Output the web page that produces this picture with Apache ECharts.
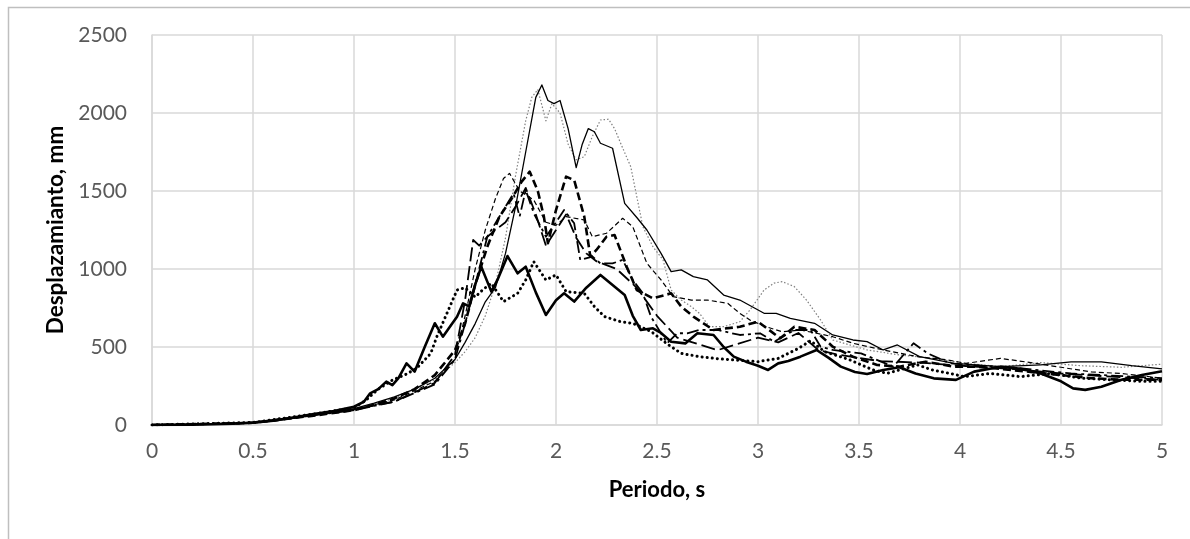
<!DOCTYPE html>
<html>
<head>
<meta charset="utf-8">
<script src="https://cdn.jsdelivr.net/npm/echarts@6/dist/echarts.min.js"></script>
<style>
html,body{margin:0;padding:0;background:#fff;}
#chart{width:1190px;height:539px;}
</style>
</head>
<body>
<div id="chart"></div>
<script>
// Axis ticks
const xTicks = [0, 0.5, 1, 1.5, 2, 2.5, 3, 3.5, 4, 4.5, 5];
const yTicks = [0, 500, 1000, 1500, 2000, 2500];

// Series A: thick solid
const aX = [0,0.2,0.4,0.5,0.6,0.7,0.8,0.9,1.0,1.05,1.08,1.12,1.16,1.19,1.22,1.26,1.30,1.35,1.40,1.44,1.48,1.51,1.54,1.57,1.60,1.63,1.68,1.71,1.76,1.81,1.85,1.90,1.95,2.0,2.04,2.09,2.15,2.22,2.28,2.34,2.38,2.42,2.48,2.52,2.57,2.64,2.70,2.78,2.83,2.88,2.94,3.0,3.05,3.10,3.15,3.21,3.29,3.35,3.41,3.48,3.54,3.62,3.70,3.78,3.87,3.98,4.07,4.20,4.30,4.40,4.50,4.56,4.62,4.70,4.80,4.90,5.0];
const aY = [0,2,8,15,28,48,70,90,117,150,203,230,278,256,300,395,342,500,652,566,640,694,780,760,900,1015,855,930,1083,972,1015,850,705,800,844,791,880,962,898,833,700,609,620,590,534,523,588,577,500,438,406,380,353,395,410,438,481,430,374,340,327,353,370,330,299,289,342,374,360,330,280,235,225,245,290,320,345];

// Series B: thin solid
const bX = [0,0.2,0.4,0.5,0.6,0.7,0.8,0.9,1.0,1.1,1.2,1.3,1.4,1.5,1.55,1.6,1.65,1.7,1.75,1.8,1.85,1.9,1.93,1.96,1.99,2.02,2.06,2.10,2.13,2.16,2.19,2.22,2.28,2.34,2.40,2.45,2.52,2.57,2.62,2.68,2.75,2.83,2.91,3.03,3.09,3.16,3.28,3.37,3.47,3.54,3.62,3.69,3.80,3.97,4.20,4.40,4.55,4.70,4.85,5.0];
const bY = [0,2,7,13,25,42,62,82,105,140,180,230,300,420,530,650,790,880,1100,1400,1750,2100,2180,2080,2060,2080,1900,1650,1800,1900,1880,1806,1774,1421,1330,1250,1100,983,994,951,930,833,801,716,716,684,652,577,545,534,481,513,438,395,374,385,405,405,380,360];

// Series C: thin dotted grey
const cX = [0,0.5,1.0,1.2,1.4,1.5,1.55,1.6,1.65,1.7,1.75,1.8,1.85,1.88,1.91,1.95,1.98,2.02,2.06,2.10,2.14,2.18,2.22,2.26,2.29,2.32,2.37,2.43,2.48,2.53,2.57,2.62,2.67,2.71,2.76,2.83,2.91,2.96,3.03,3.08,3.12,3.18,3.24,3.31,3.37,3.54,3.70,3.87,4.03,4.20,4.40,4.60,4.80,5.0];
const cY = [0,12,100,170,290,400,470,560,700,900,1200,1600,1950,2100,2150,1950,2060,2000,1800,1700,1720,1850,1955,1960,1900,1806,1656,1271,1143,1058,865,801,759,716,630,630,662,737,865,910,919,887,801,673,545,481,449,427,395,374,400,380,370,390];

// Series D: thick round dotted
const dX = [0,0.5,0.8,1.0,1.06,1.12,1.19,1.25,1.31,1.38,1.41,1.46,1.51,1.55,1.6,1.64,1.68,1.74,1.81,1.85,1.89,1.95,2.0,2.05,2.14,2.19,2.24,2.32,2.38,2.47,2.55,2.62,2.71,2.80,2.88,3.0,3.1,3.2,3.26,3.33,3.45,3.57,3.64,3.72,3.79,3.87,3.95,4.02,4.15,4.3,4.45,4.6,4.75,4.9,5.0];
const dY = [0,16,70,110,160,230,288,320,363,459,566,716,865,880,820,870,908,791,844,930,1047,930,962,855,844,759,695,662,652,600,520,459,438,425,417,406,427,491,540,470,420,353,331,360,385,350,331,310,330,310,330,300,290,280,280];

// Series E: thick dashed
const eX = [0,0.5,0.8,1.0,1.1,1.2,1.3,1.4,1.5,1.55,1.6,1.66,1.72,1.78,1.83,1.87,1.91,1.94,1.96,2.0,2.05,2.09,2.14,2.17,2.2,2.25,2.29,2.35,2.40,2.48,2.57,2.62,2.68,2.78,2.91,3.0,3.11,3.18,3.28,3.37,3.47,3.59,3.70,3.83,3.97,4.07,4.2,4.35,4.5,4.65,4.8,5.0];
const eY = [0,14,60,95,130,170,230,320,480,650,900,1143,1336,1450,1560,1624,1500,1336,1165,1378,1592,1570,1336,1079,1122,1207,1218,1015,865,812,844,759,695,609,630,662,556,630,609,502,438,385,374,406,374,374,360,340,320,300,290,290];

// Series F: thin dashed
const fX = [0,0.5,1.0,1.2,1.4,1.5,1.55,1.6,1.65,1.7,1.74,1.77,1.82,1.89,1.95,2.0,2.05,2.14,2.18,2.25,2.33,2.38,2.45,2.52,2.58,2.67,2.75,2.85,2.91,2.96,3.04,3.12,3.21,3.29,3.37,3.47,3.62,3.79,3.94,4.03,4.2,4.35,4.5,4.65,4.8,5.0];
const fY = [0,14,100,160,280,420,700,1000,1250,1450,1580,1613,1500,1442,1300,1280,1336,1314,1207,1229,1325,1271,1036,930,823,801,801,780,716,673,630,598,609,588,566,524,481,438,417,395,427,400,370,340,330,300];

// Series G: long dash-dot
const gX = [0,0.5,1.0,1.2,1.4,1.5,1.55,1.6,1.66,1.72,1.79,1.82,1.85,1.89,1.95,2.0,2.04,2.09,2.12,2.18,2.22,2.28,2.33,2.38,2.43,2.47,2.55,2.60,2.65,2.71,2.80,2.91,3.01,3.08,3.18,3.26,3.31,3.37,3.51,3.67,3.77,3.84,3.95,4.1,4.25,4.4,4.55,4.7,4.85,5.0];
const gY = [0,13,95,150,260,420,650,900,1207,1336,1485,1336,1506,1357,1207,1300,1378,1293,1058,1080,1036,1036,1058,930,844,695,524,588,588,609,609,577,588,534,609,609,502,481,459,374,524,459,395,380,370,350,330,320,310,300];

// Series H: long dash
const hX = [0,0.5,1.0,1.2,1.4,1.5,1.55,1.59,1.62,1.66,1.7,1.75,1.8,1.85,1.9,1.95,2.0,2.05,2.1,2.15,2.2,2.3,2.4,2.5,2.6,2.7,2.8,2.9,3.0,3.1,3.2,3.3,3.4,3.6,3.8,4.0,4.25,4.5,4.75,5.0];
const hY = [0,13,100,150,270,450,800,1186,1150,1207,1250,1300,1400,1520,1350,1150,1250,1350,1200,1100,1050,1000,880,700,560,520,480,520,560,530,590,480,450,410,400,380,360,330,310,290];

const pairs = (xs, ys) => xs.map((x, i) => [x, ys[i]]);

const chart = echarts.init(document.getElementById('chart'), null, {renderer: 'canvas'});
const mk = (name, xs, ys, color, width, type, cap) => ({
  name, type: 'line', data: pairs(xs, ys), showSymbol: false, smooth: false,
  lineStyle: {color, width, type, cap: cap || 'butt', join: 'round'},
  emphasis: {disabled: true}
});
const font = 'Lato, "Open Sans", sans-serif';
chart.setOption({
  animation: false,
  backgroundColor: '#ffffff',
  grid: {left: 152, right: 28, top: 35, bottom: 114},
  graphic: [{
    type: 'rect', left: 6, top: 5, silent: true,
    shape: {x: 0, y: 0, width: 1300, height: 700},
    style: {fill: 'none', stroke: '#bfbfbf', lineWidth: 1.5}
  }],
  xAxis: {
    type: 'value', min: xTicks[0], max: xTicks[xTicks.length - 1], interval: 0.5,
    name: 'Periodo, s', nameLocation: 'middle', nameGap: 54,
    nameTextStyle: {fontFamily: font, fontWeight: 'bold', fontSize: 22, color: '#000'},
    axisLine: {show: true, lineStyle: {color: '#d9d9d9', width: 1.5}},
    axisTick: {show: false},
    axisLabel: {fontFamily: font, fontSize: 21, color: '#595959', margin: 16,
      formatter: v => String(v)},
    splitLine: {show: true, lineStyle: {color: '#d9d9d9', width: 1.5}}
  },
  yAxis: {
    type: 'value', min: yTicks[0], max: yTicks[yTicks.length - 1], interval: 500,
    name: 'Desplazamianto, mm', nameLocation: 'middle', nameGap: 85,
    nameTextStyle: {fontFamily: font, fontWeight: 'bold', fontSize: 22.5, color: '#000'},
    axisLine: {show: true, lineStyle: {color: '#d9d9d9', width: 1.5}},
    axisTick: {show: false},
    axisLabel: {fontFamily: font, fontSize: 21, color: '#595959', margin: 25,
      formatter: v => String(v)},
    splitLine: {show: true, lineStyle: {color: '#d9d9d9', width: 1.5}}
  },
  series: [
    mk('C', cX, cY, '#7f7f7f', 1.2, [1.5, 2]),
    mk('F', fX, fY, '#000', 1.2, [5, 3]),
    mk('H', hX, hY, '#000', 1.8, [14, 5]),
    mk('G', gX, gY, '#000', 1.8, [12, 4, 3, 4]),
    mk('E', eX, eY, '#000', 2.6, [8, 4]),
    mk('D', dX, dY, '#000', 3, [0.1, 5], 'round'),
    mk('B', bX, bY, '#000', 1.3, 'solid'),
    mk('A', aX, aY, '#000', 2.6, 'solid')
  ]
});
</script>
</body>
</html>
